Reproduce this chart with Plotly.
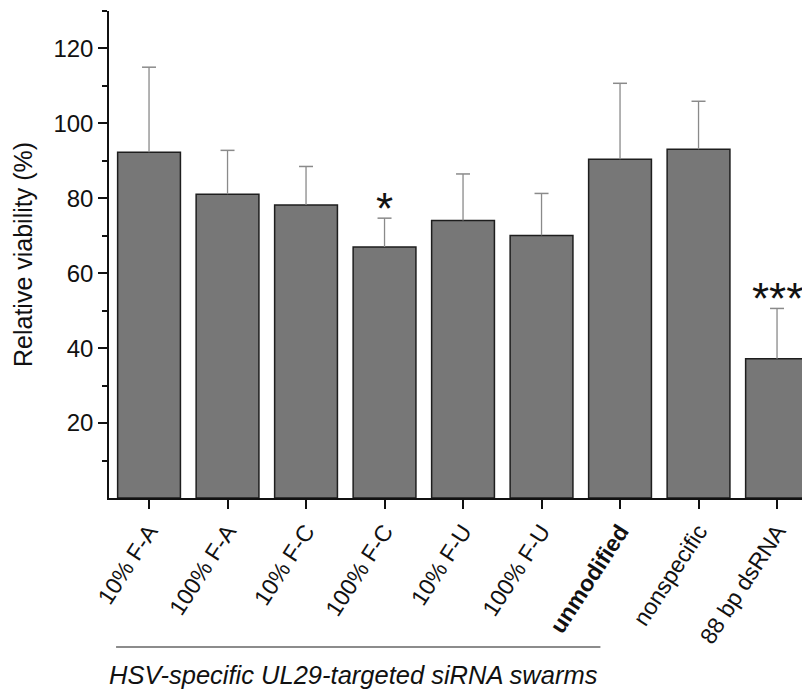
import plotly.graph_objects as go

categories = ["10% F-A", "100% F-A", "10% F-C", "100% F-C", "10% F-U", "100% F-U",
              "<b>unmodified</b>", "nonspecific", "88 bp dsRNA"]
values = [92.3, 81.1, 78.2, 67.0, 74.1, 70.1, 90.4, 93.1, 37.2]
errors = [22.7, 11.7, 10.3, 7.7, 12.4, 11.2, 20.3, 12.8, 13.4]
significance = ["", "", "", "*", "", "", "", "", "***"]
group_label = "HSV-specific UL29-targeted siRNA swarms"
y_ticks = [20, 40, 60, 80, 100, 120]
y_minor = [10, 30, 50, 70, 90, 110, 130]

FONT = "Arial, Liberation Sans, sans-serif"
xs = list(range(len(categories)))

fig = go.Figure()
fig.add_trace(go.Bar(
    x=xs, y=values, width=0.8,
    marker=dict(color="#777777", line=dict(color="#1e1e1e", width=1.5)),
    showlegend=False, hoverinfo="skip"))

# upward-only error bars
ex, ey, cx, cy = [], [], [], []
for x, v, e in zip(xs, values, errors):
    ex += [x, x, None]
    ey += [v, v + e, None]
    cx.append(x)
    cy.append(v + e)
fig.add_trace(go.Scatter(x=ex, y=ey, mode="lines",
                         line=dict(color="#8a8a8a", width=1.3),
                         showlegend=False, hoverinfo="skip"))
fig.add_trace(go.Scatter(x=cx, y=cy, mode="markers",
                         marker=dict(symbol="line-ew", size=10,
                                     line=dict(color="#8a8a8a", width=1.5)),
                         showlegend=False, hoverinfo="skip"))

for x, v, e, s in zip(xs, values, errors, significance):
    if s:
        fig.add_annotation(x=x, y=v + e, text=s, showarrow=False,
                           yanchor="bottom", yshift=-17,
                           font=dict(family=FONT, size=44, color="#111111"))

# group bracket line and label
fig.add_shape(type="line", xref="x", yref="paper", x0=-0.42, x1=5.75,
              y0=-0.306, y1=-0.306, line=dict(color="#666666", width=1.5))
fig.add_annotation(xref="x", yref="paper", x=2.6, y=-0.363, text="<i>" + group_label + "</i>",
                   showarrow=False, yanchor="middle", xanchor="center",
                   font=dict(family=FONT, size=25.5, color="#111111"))

# the page body adds an 8px offset, so the figure is sized to the visible area
fig.update_layout(
    width=802, height=681,
    margin=dict(l=101, r=0, t=3, b=191),
    plot_bgcolor="white", paper_bgcolor="white",
    font=dict(family=FONT, color="#111111"),
    xaxis=dict(range=[-0.51, 8.42], tickvals=xs, ticktext=categories, automargin=False,
               tickangle=-57, tickfont=dict(size=23, family=FONT, color="#111111"),
               showline=True, linecolor="#111111", linewidth=1.5,
               ticks="outside", ticklen=9, tickwidth=1.5, tickcolor="#111111",
               showgrid=False, zeroline=False),
    yaxis=dict(range=[0, 130], tickvals=y_ticks, automargin=False,
               tickfont=dict(size=24, family=FONT, color="#111111"),
               title=dict(text="Relative viability (%)", standoff=14,
                          font=dict(size=25, family=FONT, color="#111111")),
               showline=True, linecolor="#111111", linewidth=1.5,
               ticks="outside", ticklen=9, tickwidth=1.5, tickcolor="#111111",
               minor=dict(tickvals=y_minor, ticks="outside", ticklen=5,
                          tickwidth=1.5, tickcolor="#111111"),
               showgrid=False, zeroline=False),
)

fig.write_html("out.html")
